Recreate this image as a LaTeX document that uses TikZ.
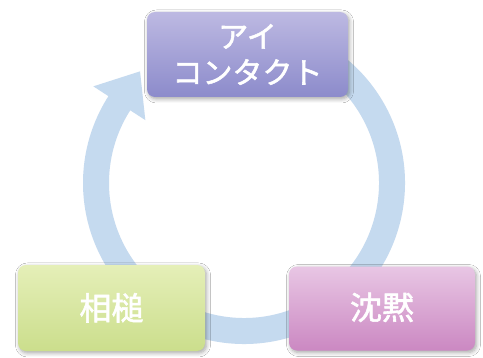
\documentclass[tikz,border=0pt]{standalone}
\usepackage{fontspec}
\newfontfamily\jp[FakeBold=1.8]{Noto Sans CJK JP}
\usetikzlibrary{calc,shadows.blur}
\definecolor{ringblue}{HTML}{C5DAEF}
\definecolor{topA}{HTML}{BDB9E2}
\definecolor{topB}{HTML}{8C8BCB}
\definecolor{grnA}{HTML}{E5EFB8}
\definecolor{grnB}{HTML}{CBDE8C}
\definecolor{pnkA}{HTML}{E8C6E4}
\definecolor{pnkB}{HTML}{CB88C2}
\tikzset{
  box/.style={rounded corners=8pt, inner sep=0pt, align=center,
    text=white, font=\jp,
    blur shadow={shadow xshift=1.5pt, shadow yshift=-2pt, shadow blur steps=6, shadow blur radius=4pt, shadow opacity=35}},
  ring/.style={draw=ringblue, line width=26pt},
  arrowhd/.style={fill=ringblue}
}
\begin{document}
\begin{tikzpicture}[x=1pt,y=1pt]
\useasboundingbox (0,0) rectangle (483,357);
\fill[white] (0,0) rectangle (483,357);
\coordinate (C) at (244,174);
\coordinate (B) at ($(C)+(147:148pt)$);
\coordinate (Bb) at ($(B)+(237:1pt)$);
% ring
\draw[ring] ($(C)+(80:148pt)$) arc[start angle=80, end angle=-213, radius=148pt];
\fill[arrowhd] ($(Bb)+(-33:31pt)$) -- ($(Bb)+(147:31pt)$) -- ($(Bb)+(57:38pt)$) -- cycle;
% boxes
\node[box, minimum width=201pt, minimum height=85pt,
  top color=topA, bottom color=topB, font=\jp\fontsize{30}{36}\selectfont]
  (eye) at (247.5,302.5) {アイ\\コンタクト};
\node[box, minimum width=187pt, minimum height=86pt,
  top color=grnA, bottom color=grnB, font=\jp\fontsize{32}{38}\selectfont]
  (aiz) at (111.5,49) {\raisebox{3pt}{相槌}};
\node[box, minimum width=186pt, minimum height=84pt,
  top color=pnkA, bottom color=pnkB, font=\jp\fontsize{32}{38}\selectfont]
  (chm) at (382,48.5) {\raisebox{5pt}{沈黙}};
\end{tikzpicture}
\end{document}
